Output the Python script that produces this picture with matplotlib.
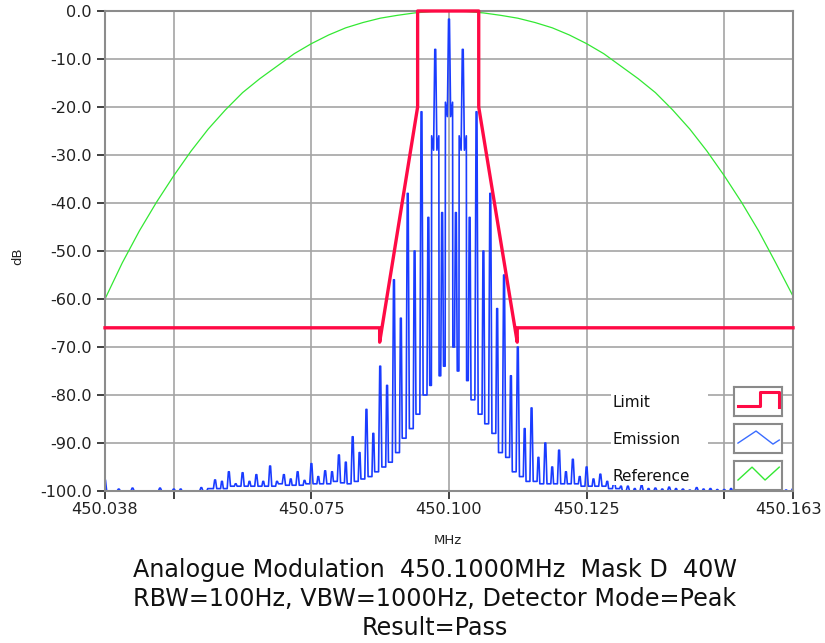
import numpy as np
import matplotlib
matplotlib.use('Agg')
import matplotlib.pyplot as plt
from matplotlib.patches import Rectangle
from matplotlib.transforms import ScaledTranslation

plt.rcParams.update({
    "font.family": "DejaVu Sans",
    "axes.unicode_minus": False,
})

carrier_mhz = 450.1

# axis ticks
x_ticks = [450.0375, 450.05, 450.075, 450.1, 450.125, 450.15, 450.1625]
x_tick_labels = ['450.038', '', '450.075', '450.100', '450.125', '', '450.163']
y_ticks = [0, -10, -20, -30, -40, -50, -60, -70, -80, -90, -100]

# reference curve (offset from carrier in kHz, level in dB)
ref_khz = [-62.5, -59.375, -56.25, -53.125, -50, -46.875, -43.75, -40.625, -37.5, -34.375,
           -31.25, -28.125, -25, -21.875, -18.75, -15.625, -12.5, -9.375, -6.25, -3.125,
           0, 3.125, 6.25, 9.375, 12.5, 15.625, 18.75, 21.875, 25, 28.125,
           31.25, 34.375, 37.5, 40.625, 43.75, 46.875, 50, 53.125, 56.25, 59.375, 62.5]
ref_db = [-60, -52.5, -45.8, -39.8, -34.3, -29.2, -24.6, -20.6, -17, -14.1,
          -11.5, -8.9, -6.8, -5.0, -3.5, -2.4, -1.5, -0.9, -0.4, -0.1,
          0, -0.1, -0.4, -0.9, -1.5, -2.4, -3.5, -5.0, -6.8, -8.9,
          -11.5, -14.1, -17, -20.6, -24.6, -29.2, -34.3, -39.8, -45.8, -52.5, -59.4]

# limit mask
mask_khz = [-62.5, -12.6, -12.6, -5.7, -5.7, 5.4, 5.4, 12.4, 12.4, 62.5]
mask_db = [-66, -66, -69, -20, 0, 0, -20, -69, -66, -66]

# emission: spectral lines every 2.5 kHz (-62.5 .. 62.5 kHz)
main_khz = np.arange(-62.5, 62.6, 2.5)
main_db = [-97.7, -99.6, -99.4, -100, -99.4, -99.6, -100, -99.3, -97.7, -96,
           -96.2, -96.6, -94.8, -96.6, -96, -94.3, -95.8, -92.5, -88.7, -83,
           -74, -56, -38, -21, -8,
           -1.7,
           -8, -21, -38, -55, -70, -82.7, -90, -91.5, -93.4, -95,
           -96.5, -98, -99, -98.8, -99.4, -99.2, -99.6, -99.3, -99.5, -99.7,
           -99.4, -99.3, -99.6, -99.8, -99.5]
# weaker lines half way between (main + 1.25 kHz)
mid_db = [-100, -100, -100, -100, -100, -99.6, -100, -99.5, -98, -98.5,
          -98, -98, -98, -97.5, -97.8, -97, -96, -94, -92, -88,
          -78, -64, -50, -43, -42,
          -42, -43, -50, -62, -76, -87, -93, -95, -96, -97,
          -97.5, -98, -99, -99.5, -99.5, -99.6, -99.5, -99.8, -99.6, -99.7,
          -99.5, -99.8, -99.6, -99.7, -99.8]
# trough level after each main line and after each half-way line
trough_db = [-100, -100, -100, -100, -100, -100, -100, -100, -99.5, -99,
             -99, -99, -99, -98.8, -98.8, -98.5, -98.5, -98.3, -98, -97,
             -95, -92, -87, -80, -76,
             -70,
             -77, -84, -88, -93, -97, -98, -98.5, -98.5, -98.5, -99,
             -99, -99.5, -100, -100, -100, -100, -100, -100, -100, -100,
             -100, -100, -100, -100, -100]
mid_trough_db = [-100, -100, -100, -100, -100, -100, -100, -99.5, -99.5, -99,
                 -99, -99, -98.5, -98.8, -98.5, -98.5, -98, -98.5, -97.5, -96,
                 -94, -89, -84, -78, -74,
                 -75, -81, -86, -92, -96, -98, -98.5, -98.5, -98.5, -99,
                 -99, -99.5, -100, -100, -100, -100, -100, -100, -100, -100,
                 -100, -100, -100, -100, -100]
# shoulders on the strongest lines
shoulder_db = {-2.5: -26, 0.0: -19, 2.5: -26}


def spike(k, left, right, peak, half):
    return ([k - half, k - 0.08, k + 0.08, k + half], [left, peak, peak, right])


em_x, em_y = [], []
prev = trough_db[0]
for i, k in enumerate(main_khz):
    t = trough_db[i]
    key = round(float(k), 2)
    if key in shoulder_db:
        s = shoulder_db[key]
        em_x += [k - 0.7, k - 0.65, k - 0.3, k - 0.08, k + 0.08, k + 0.3, k + 0.65, k + 0.7]
        em_y += [prev, s, s - 3, main_db[i], main_db[i], s - 3, s, t]
    else:
        sx, sy = spike(k, prev, t, main_db[i], 0.3)
        em_x += sx
        em_y += sy
    if i < len(mid_db):
        sx, sy = spike(k + 1.25, t, mid_trough_db[i], mid_db[i], 0.25)
        em_x += sx
        em_y += sy
        prev = mid_trough_db[i]

em_x = carrier_mhz + np.array(em_x) / 1000
ref_x = carrier_mhz + np.array(ref_khz) / 1000
mask_x = carrier_mhz + np.array(mask_khz) / 1000

fig = plt.figure(figsize=(8.25, 6.43), dpi=100)
ax = fig.add_axes([105 / 825, 1 - 491 / 643, 688 / 825, 480 / 643])

ax.plot(ref_x, ref_db, color='#33e833', linewidth=0.9, zorder=2)
ax.plot(em_x, em_y, color='#1a3cff', linewidth=1.2, zorder=2.5)
ax.plot(mask_x, mask_db, color='#ff0a45', linewidth=2.4, zorder=3, clip_on=False)

ax.set_xlim(450.0375, 450.1625)
ax.set_ylim(-100, 0)
ax.set_xticks(x_ticks)
ax.set_xticklabels(x_tick_labels)
ax.set_yticks(y_ticks)
ax.set_yticklabels(['%.1f' % v for v in y_ticks])
ax.grid(True, color='#a4a4a4', linewidth=1.2, zorder=0)
ax.set_axisbelow(True)
for sp in ax.spines.values():
    sp.set_color('#8c8c8c')
    sp.set_linewidth(1.5)
ax.tick_params(axis='both', direction='out', length=6, width=1.3, color='#333333',
               labelsize=11.6, labelcolor='#222222')
ax.tick_params(axis='x', pad=2)
ax.tick_params(axis='y', pad=3.5)
last = ax.get_xticklabels()[-1]
last.set_transform(last.get_transform() + ScaledTranslation(-0.05, 0, fig.dpi_scale_trans))

fig.text(448 / 825, 1 - 541 / 643, 'MHz', ha='center', va='center', fontsize=9.5, color='#222222')
fig.text(18 / 825, 1 - 256 / 643, 'dB', ha='center', va='center', fontsize=9.5,
         rotation=90, color='#222222')

# legend in the lower right corner of the plot
ax.add_patch(Rectangle((0.735, 0.0125), 0.141, 0.207, transform=ax.transAxes,
                       facecolor='white', edgecolor='none', zorder=3.5))
legend_names = ['Limit', 'Emission', 'Reference']
legend_rows = [0.156, 0.079, 0.002]
legend_text_y = [0.185, 0.108, 0.031]
icons = [
    ([0.083, 0.54, 0.54, 0.94, 0.94], [0.345, 0.345, 0.83, 0.83, 0.31], '#ff0a45', 2.2),
    ([0.083, 0.458, 0.81, 0.94], [0.345, 0.76, 0.31, 0.45], '#3a6cff', 1.0),
    ([0.083, 0.375, 0.646, 0.94], [0.345, 0.79, 0.345, 0.79], '#33e833', 1.0),
]
for name, y0, ty, (ix, iy, c, lw) in zip(legend_names, legend_rows, legend_text_y, icons):
    ax.text(0.737, ty, name, transform=ax.transAxes, fontsize=11, va='center', ha='left',
            color='#111111', zorder=4)
    box = ax.inset_axes([0.9142, y0, 0.07, 0.0604])
    box.set_xlim(0, 1)
    box.set_ylim(0, 1)
    box.set_xticks([])
    box.set_yticks([])
    box.set_facecolor('white')
    for sp in box.spines.values():
        sp.set_color('#8a8a8a')
        sp.set_linewidth(1.5)
    box.plot(ix, iy, color=c, linewidth=lw)

fig.text(435 / 825, 1 - 599 / 643,
         'Analogue Modulation  450.1000MHz  Mask D  40W\n'
         'RBW=100Hz, VBW=1000Hz, Detector Mode=Peak\n'
         'Result=Pass',
         ha='center', va='center', fontsize=17.2, linespacing=1.25, color='#111111')

fig.savefig('out.png', dpi=100)
